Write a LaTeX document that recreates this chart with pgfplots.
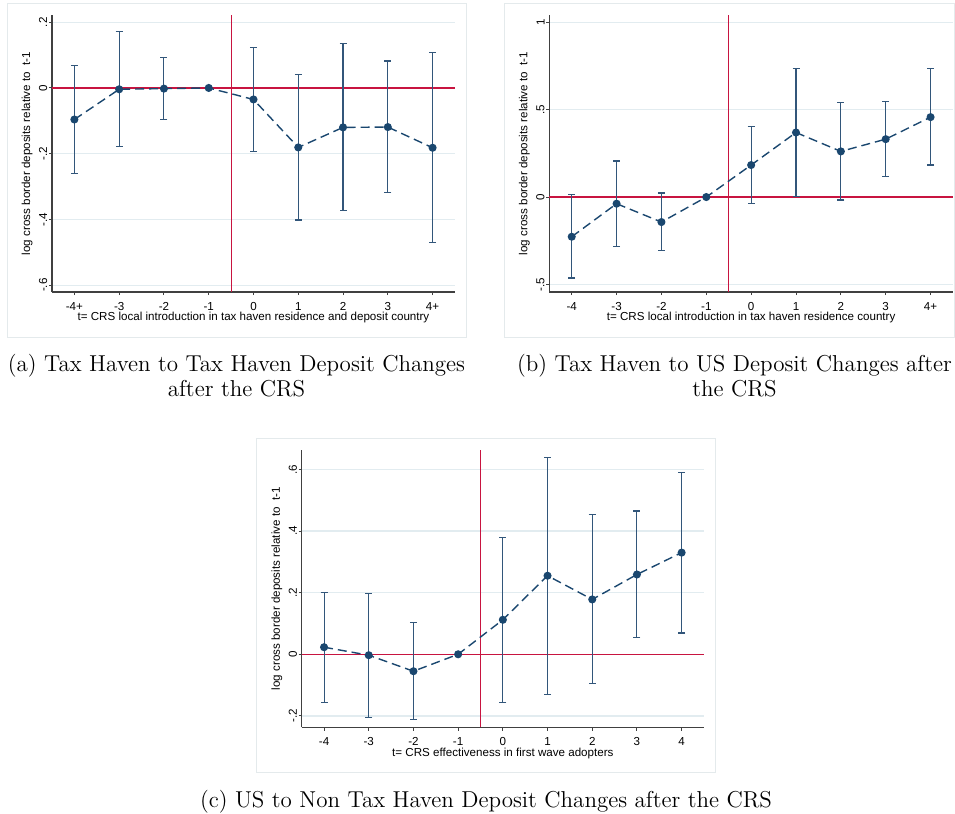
\documentclass[border=0pt]{standalone}
\usepackage{fontspec}
\setsansfont{Liberation Sans}
\usepackage{pgfplots}
\usepackage{pgfplotstable}
\pgfplotsset{compat=1.18}
\definecolor{navy}{RGB}{26,71,111}
\definecolor{navyci}{RGB}{50,86,122}
\definecolor{crs}{RGB}{200,20,64}
\definecolor{gridc}{RGB}{226,236,240}
\definecolor{framec}{RGB}{228,234,236}

% panel (a)
\pgfplotstableread{
x y
-4 -0.096
-3 -0.004
-2 -0.002
-1 0
0 -0.035
1 -0.181
2 -0.120
3 -0.119
4 -0.182
}\ptA
\pgfplotstableread{
x y lo hi
-4 -0.096 -0.261 0.067
-3 -0.004 -0.177 0.171
-2 -0.002 -0.096 0.094
0 -0.035 -0.194 0.124
1 -0.181 -0.402 0.042
2 -0.120 -0.373 0.134
3 -0.119 -0.319 0.082
4 -0.182 -0.469 0.108
}\ciA
% panel (b)
\pgfplotstableread{
x y
-4 -0.227
-3 -0.038
-2 -0.143
-1 0
0 0.183
1 0.369
2 0.261
3 0.331
4 0.457
}\ptB
\pgfplotstableread{
x y lo hi
-4 -0.227 -0.463 0.013
-3 -0.038 -0.284 0.206
-2 -0.143 -0.306 0.023
0 0.183 -0.036 0.402
1 0.369 0.002 0.737
2 0.261 -0.017 0.541
3 0.331 0.118 0.546
4 0.457 0.183 0.735
}\ciB
% panel (c)
\pgfplotstableread{
x y
-4 0.023
-3 -0.003
-2 -0.055
-1 0
0 0.112
1 0.255
2 0.178
3 0.259
4 0.330
}\ptC
\pgfplotstableread{
x y lo hi
-4 0.023 -0.156 0.201
-3 -0.003 -0.204 0.197
-2 -0.055 -0.213 0.103
0 0.112 -0.156 0.379
1 0.255 -0.130 0.639
2 0.178 -0.096 0.454
3 0.259 0.054 0.465
4 0.330 0.069 0.590
}\ciC

\pgfplotsset{
  stata/.style={
    scale only axis, anchor=south west,
    xmin=-4.5, xmax=4.5,
    axis x line*=bottom, axis y line*=left,
    axis line style={black!75, line width=0.6pt},
    tick align=outside, major tick length=1.6pt,
    tick style={black!75, line width=0.5pt},
    xtick={-4,-3,-2,-1,0,1,2,3,4},
    ymajorgrids, major grid style={gridc, line width=0.6pt},
    every tick label/.append style={font=\sffamily\fontsize{5.8}{7}\selectfont},
    label style={font=\sffamily\fontsize{5.8}{7}\selectfont},
    yticklabel style={rotate=90, anchor=south, inner sep=0.6pt},
    xticklabel style={anchor=base, yshift=-7.4pt},
    ylabel={log cross border deposits relative to\ \ t-1},
    ylabel style={at={(axis description cs:-0.062,0.5)}, anchor=center},
    xlabel style={at={(axis description cs:0.5,-0.1036)}, anchor=base},
    clip=false,
  },
  ci/.style={draw=none, forget plot,
    error bars/.cd, y dir=both, y explicit,
    error bar style={draw=navyci, line width=0.55pt, solid},
    error mark options={draw=navyci, line width=0.55pt, mark size=1.75pt, rotate=90}},
  pts/.style={navy, line width=0.7pt, dash pattern=on 4.5pt off 2.5pt,
    mark=*, mark size=1.65pt, mark options={solid, fill=navy, draw=navy}},
  refline/.style={draw=crs, line width=0.6pt, forget plot, mark=none},
}

\begin{document}
\begin{tikzpicture}
\path[use as bounding box] (0,0) rectangle (477.5pt,-407pt);
\draw[framec, line width=0.5pt] (3.5pt,-1.65pt) rectangle (233.35pt,-168.65pt);
\draw[framec, line width=0.5pt] (252.15pt,-1.65pt) rectangle (477.2pt,-168.65pt);
\draw[framec, line width=0.5pt] (128.35pt,-219pt) rectangle (357.5pt,-386pt);

% (a)
\begin{axis}[stata, at={(26pt,-146pt)}, width=201.5pt, height=138.5pt,
  ymin=-0.621, ymax=0.222,
  ytick={-0.6,-0.4,-0.2,0,0.2}, yticklabels={-.6,-.4,-.2,0,.2},
  xticklabels={-4+,-3,-2,-1,0,1,2,3,4+},
  xlabel={t= CRS local introduction in tax haven residence and deposit country}]
\addplot[refline] coordinates {(-4.5,0) (4.5,0)};
\addplot[refline] coordinates {(-0.5,-0.621) (-0.5,0.222)};
\addplot[ci] table[x=x, y=y, y error plus expr=\thisrow{hi}-\thisrow{y}, y error minus expr=\thisrow{y}-\thisrow{lo}] {\ciA};
\addplot[pts] table[x=x, y=y] {\ptA};
\end{axis}

% (b)
\begin{axis}[stata, at={(274.65pt,-146pt)}, width=201.85pt, height=138.5pt,
  ymin=-0.543, ymax=1.041,
  ytick={-0.5,0,0.5,1}, yticklabels={-.5,0,.5,1},
  xticklabels={-4,-3,-2,-1,0,1,2,3,4+},
  xlabel={t= CRS local introduction in tax haven residence country}]
\addplot[refline] coordinates {(-4.5,0) (4.5,0)};
\addplot[refline] coordinates {(-0.5,-0.543) (-0.5,1.041)};
\addplot[ci] table[x=x, y=y, y error plus expr=\thisrow{hi}-\thisrow{y}, y error minus expr=\thisrow{y}-\thisrow{lo}] {\ciB};
\addplot[pts] table[x=x, y=y] {\ptB};
\end{axis}

% (c)
\begin{axis}[stata, at={(150.85pt,-363.65pt)}, width=201.15pt, height=138.65pt,
  ymin=-0.237, ymax=0.663,
  ytick={-0.2,0,0.2,0.4,0.6}, yticklabels={-.2,0,.2,.4,.6},
  xticklabels={-4,-3,-2,-1,0,1,2,3,4},
  xlabel={t= CRS effectiveness in first wave adopters}]
\addplot[refline] coordinates {(-4.5,0) (4.5,0)};
\addplot[refline] coordinates {(-0.5,-0.237) (-0.5,0.663)};
\addplot[ci] table[x=x, y=y, y error plus expr=\thisrow{hi}-\thisrow{y}, y error minus expr=\thisrow{y}-\thisrow{lo}] {\ciC};
\addplot[pts] table[x=x, y=y] {\ptC};
\end{axis}

\tikzset{captxt/.style={anchor=base, font=\fontsize{11.5}{13}\selectfont}}
\node[captxt] at (118.25pt,-185.5pt) {(a) Tax Haven to Tax Haven Deposit Changes};
\node[captxt] at (118.25pt,-198.25pt) {after the CRS};
\node[captxt] at (367.25pt,-185.5pt) {(b) Tax Haven to US Deposit Changes after};
\node[captxt] at (367.25pt,-198.25pt) {the CRS};
\node[captxt] at (243pt,-403.5pt) {(c) US to Non Tax Haven Deposit Changes after the CRS};
\end{tikzpicture}
\end{document}
